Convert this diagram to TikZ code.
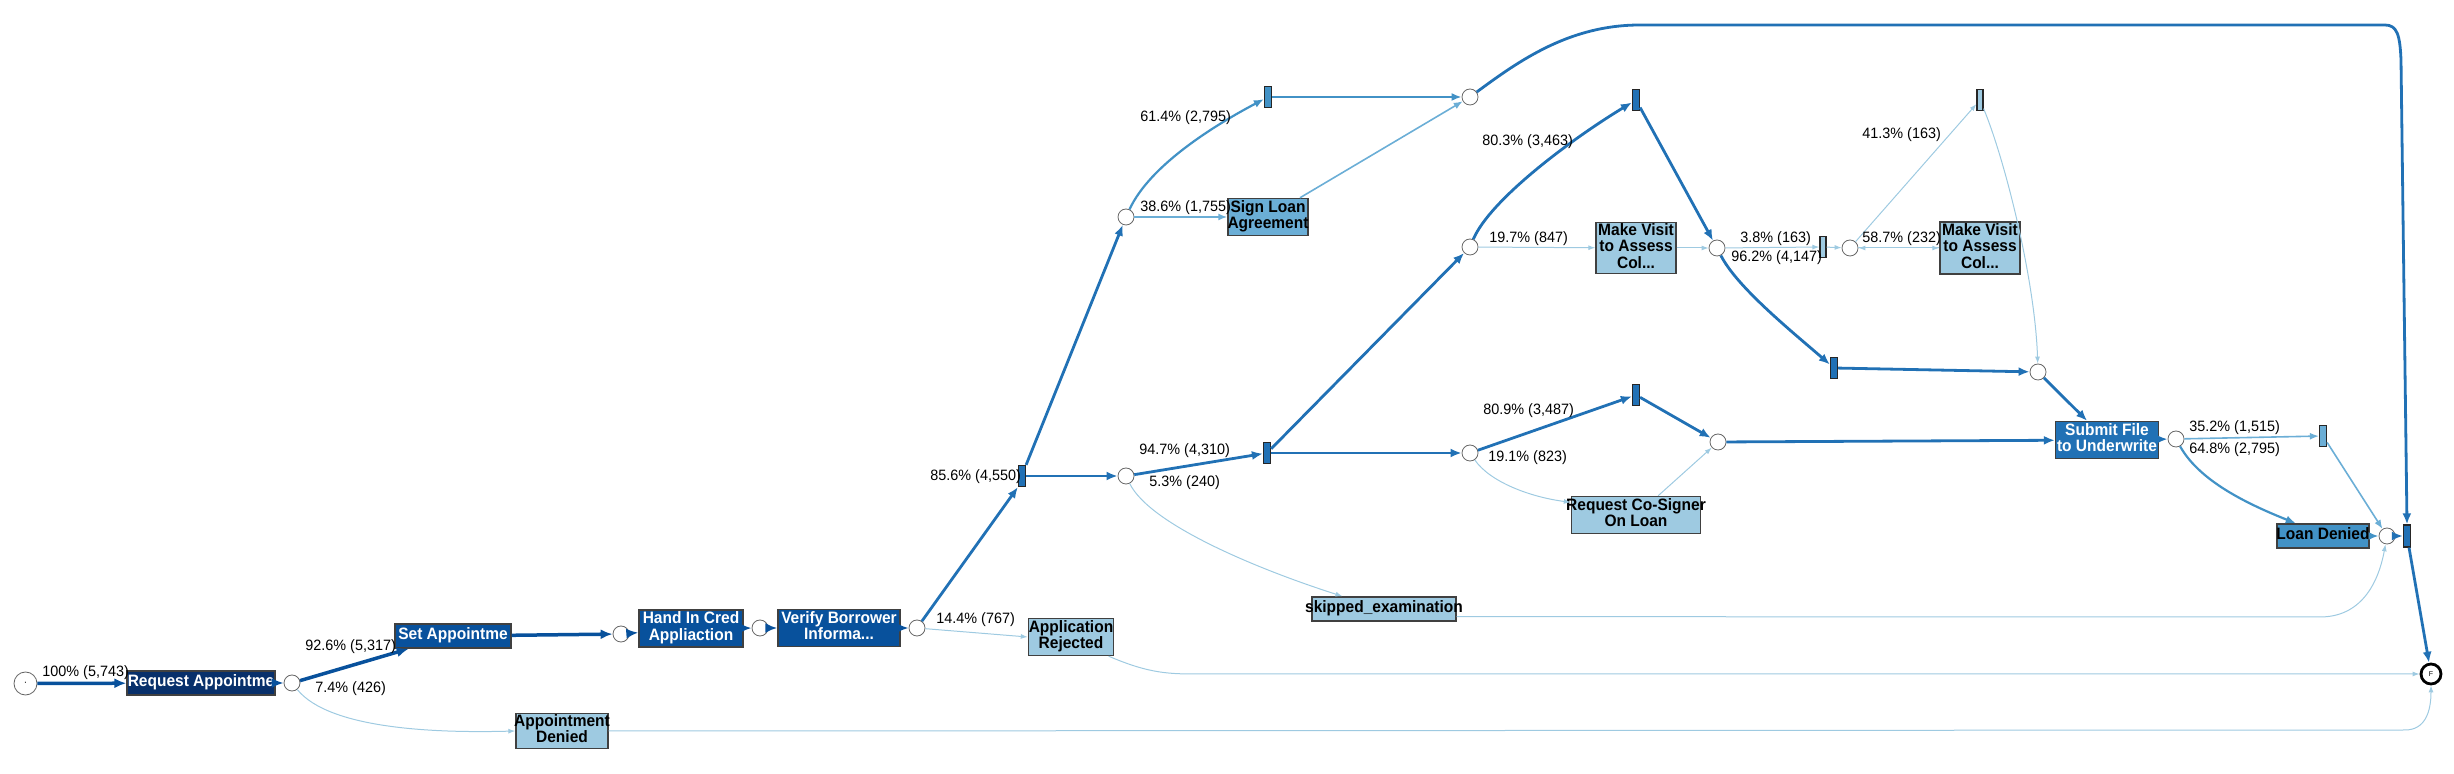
\documentclass[tikz,border=0pt]{standalone}
\usepackage{fontspec}
\setmainfont{Liberation Sans}
\newfontfamily\boxfont[FakeStretch=0.94]{Liberation Sans}
\newfontfamily\lblfont[FakeStretch=0.96]{Liberation Sans}
\usetikzlibrary{arrows.meta}
\definecolor{navy}{HTML}{08306B}
\definecolor{dblue}{HTML}{08519C}
\definecolor{mblue}{HTML}{2171B5}
\definecolor{bfour}{HTML}{4292C6}
\definecolor{bthree}{HTML}{6BAED6}
\definecolor{lblue}{HTML}{9ECAE1}
\newcommand\bt[1]{\makebox[0pt]{\begin{tabular}{@{}c@{}}#1\end{tabular}}}
\begin{document}
\begin{tikzpicture}[x=0.5pt,y=-0.5pt,
  place/.style={circle, draw=black!60, line width=0.4pt, fill=white, minimum size=8pt, inner sep=0pt},
  act/.style={rectangle, draw=black!75, line width=0.7pt, inner sep=0pt, font=\boxfont\fontsize{8.25}{8}\selectfont\bfseries},
  bar/.style={rectangle, draw=black!85, line width=0.6pt, minimum width=3.5pt, minimum height=10.5pt, inner sep=0pt},
  lbl/.style={font=\lblfont\fontsize{7.5}{8}\selectfont, inner sep=0pt, anchor=west},
  eA/.style={line width=1.75pt, -{Latex[length=6pt,width=5pt]}},
  eB/.style={line width=1.4pt, -{Latex[length=5.5pt,width=4.5pt]}},
  eC/.style={line width=1.1pt, -{Latex[length=5pt,width=4pt]}},
  eD/.style={line width=0.8pt, -{Latex[length=4.5pt,width=3.5pt]}},
  eE/.style={line width=0.5pt, -{Latex[length=3.5pt,width=2.5pt]}}]
\useasboundingbox (0,0) rectangle (2454,774);
% places
\node[place, minimum size=11.5pt] (start) at (25.5,683.5) {\fontsize{5}{5}\selectfont ·};
\node[place] (c1) at (292,683) {};
\node[place] (c2) at (621,634) {};
\node[place] (c3) at (760,628) {};
\node[place] (c4) at (917,628) {};
\node[place] (c5) at (1126,476) {};
\node[place] (c6) at (1126,217) {};
\node[place] (c7) at (1470,97) {};
\node[place] (c8) at (1470,247) {};
\node[place] (c9) at (1470,453) {};
\node[place] (c10) at (1717,248) {};
\node[place] (c11) at (1850,248) {};
\node[place] (c12) at (2038,372) {};
\node[place] (c13) at (1718,442) {};
\node[place] (c14) at (2176,439) {};
\node[place] (c15) at (2387,536) {};
\node[circle, draw=black, line width=1.4pt, fill=white, minimum size=10pt, inner sep=0pt, font=\fontsize{3.5}{4}\selectfont] (F) at (2431,674) {F};
% activities
\node[act, fill=navy, text=white, minimum width=74pt, minimum height=12pt] (reqA) at (201,683) {\bt{Request Appointme}};
\node[act, fill=dblue, text=white, minimum width=58pt, minimum height=12pt] (setA) at (453,636) {\bt{Set Appointme}};
\node[act, fill=dblue, text=white, minimum width=52pt, minimum height=18.5pt] (handIn) at (691,628.5) {\bt{Hand In Cred\\Appliaction}};
\node[act, fill=dblue, text=white, minimum width=61pt, minimum height=18.5pt] (verify) at (839,628) {\bt{Verify Borrower\\Informa...}};
\node[act, fill=lblue, minimum width=42.5pt, minimum height=18.5pt] (appRej) at (1071,637) {\bt{Application\\Rejected}};
\node[act, fill=lblue, minimum width=46pt, minimum height=17.5pt] (apptDen) at (562,731) {\bt{Appointment\\Denied}};
\node[act, fill=lblue, minimum width=72pt, minimum height=12pt] (skip) at (1384,609) {\bt{skipped\_examination}};
\node[act, fill=bthree, minimum width=40pt, minimum height=18.5pt] (signL) at (1268,217) {\bt{Sign Loan\\Agreement}};
\node[act, fill=lblue, minimum width=40pt, minimum height=25.5pt] (mv1) at (1636,248) {\bt{Make Visit\\to Assess\\Col...}};
\node[act, fill=lblue, minimum width=40pt, minimum height=26pt] (mv2) at (1980,248) {\bt{Make Visit\\to Assess\\Col...}};
\node[act, fill=lblue, minimum width=64.5pt, minimum height=18.5pt] (cosig) at (1636,515) {\bt{Request Co-Signer\\On Loan}};
\node[act, fill=mblue, text=white, minimum width=51.5pt, minimum height=18.5pt] (submit) at (2107,440) {\bt{Submit File\\to Underwrite}};
\node[act, fill=bfour, minimum width=46pt, minimum height=12pt] (loanD) at (2323,536) {\bt{Loan Denied}};
% bars
\node[bar, fill=mblue] (bar1) at (1022,476) {};
\node[bar, fill=mblue] (bar2) at (1267,453) {};
\node[bar, fill=bfour] (bar3) at (1268,97) {};
\node[bar, fill=mblue] (bar4) at (1636,100) {};
\node[bar, fill=lblue, minimum width=3pt] (sbar) at (1823,247) {};
\node[bar, fill=lblue, minimum width=3pt] (bar6) at (1980,100) {};
\node[bar, fill=mblue] (bar5) at (1834,368) {};
\node[bar, fill=mblue] (bar7) at (1636,395) {};
\node[bar, fill=bthree] (bar8) at (2323,436) {};
\node[bar, fill=mblue, minimum height=11pt] (barF) at (2407,536) {};
% edges
\draw[eA,dblue] (start) -- (reqA);
\draw[eA,dblue] (reqA) -- (c1);
\draw[eA,dblue] (c1) -- (setA.196);
\draw[eE,lblue] (c1) .. controls (330,730) and (440,733) .. (apptDen.west);
\draw[eA,dblue] (setA) -- (c2);
\draw[eA,dblue] (c2) -- (handIn);
\draw[eA,dblue] (handIn) -- (c3);
\draw[eA,dblue] (c3) -- (verify);
\draw[eA,dblue] (verify) -- (c4);
\draw[eB,mblue] (c4) -- (bar1.south west);
\draw[eE,lblue] (c4) -- (appRej.west);
\draw[eB,mblue] (bar1.north east) -- (c6);
\draw[eB,mblue] (bar1) -- (c5);
\draw[eB,mblue] (c5) -- (bar2);
\draw[eE,lblue] (c5) .. controls (1150,525) and (1260,570) .. (skip.163);
\draw[eB,mblue] (bar2) -- (c9);
\draw[eB,mblue] (bar2) -- (c8);
\draw[eC,bfour] (c6) .. controls (1150,165) and (1215,125) .. (bar3);
\draw[eD,bthree] (c6) -- (signL);
\draw[eC,bfour] (bar3) -- (c7);
\draw[eD,bthree] (signL.31) -- (c7);
\draw[eB,mblue] (c7) .. controls (1520,60) and (1570,25) .. (1640,25) -- (2385,25) .. controls (2397,25) and (2400,35) .. (2401,60) -- (barF.north);
\draw[eB,mblue] (c8) .. controls (1490,200) and (1570,140) .. (bar4);
\draw[eE,lblue] (c8) -- (mv1);
\draw[eB,mblue] (bar4) -- (c10);
\draw[eE,lblue] (mv1) -- (c10);
\draw[eE,lblue] (c10) -- (sbar);
\draw[eB,mblue] (c10) .. controls (1737,287) and (1790,330) .. (bar5);
\draw[eE,lblue] (sbar) -- (c11);
\draw[eE,lblue] (c11) -- (mv2);
\draw[eE,lblue] (mv2) -- (c11);
\draw[eE,lblue] (c11) -- (bar6);
\draw[eE,lblue] (bar6) .. controls (2005,160) and (2035,280) .. (c12);
\draw[eB,mblue] (bar5) -- (c12);
\draw[eB,mblue] (c12) -- (submit.136);
\draw[eB,mblue] (c9) -- (bar7);
\draw[eE,lblue] (c9) .. controls (1490,482) and (1530,497) .. (cosig.169);
\draw[eB,mblue] (bar7) -- (c13);
\draw[eE,lblue] (cosig.41) -- (c13);
\draw[eB,mblue] (c13) -- (submit);
\draw[eB,mblue] (submit) -- (c14);
\draw[eD,bthree] (c14) -- (bar8);
\draw[eC,bfour] (c14) .. controls (2200,482) and (2250,505) .. (loanD.155);
\draw[eD,bthree] (bar8) -- (c15);
\draw[eC,bfour] (loanD) -- (c15);
\draw[eE,lblue] (skip.-6) -- (2320,617) .. controls (2360,617) and (2378,585) .. (c15);
\draw[eB,mblue] (c15) -- (barF);
\draw[eB,mblue] (barF) -- (F);
\draw[eE,lblue] (appRej.-27) .. controls (1150,674) and (1170,674) .. (1200,674) -- (F);
\draw[eE,lblue] (apptDen.east) -- (2405,730) .. controls (2425,730) and (2431,712) .. (F.south);
% labels
\node[lbl] (l1) at (42,673) {100\% (5,743)};
\node[lbl] (l2) at (305,647) {92.6\% (5,317)};
\node[lbl] (l3) at (315,689) {7.4\% (426)};
\node[lbl] (l4) at (936,620) {14.4\% (767)};
\node[lbl] (l5) at (930,477) {85.6\% (4,550)};
\node[lbl] (l6) at (1139,451) {94.7\% (4,310)};
\node[lbl] (l7) at (1149,483) {5.3\% (240)};
\node[lbl] (l8) at (1140,118) {61.4\% (2,795)};
\node[lbl] (l9) at (1140,208) {38.6\% (1,755)};
\node[lbl] (l10) at (1482,142) {80.3\% (3,463)};
\node[lbl] (l11) at (1489,239) {19.7\% (847)};
\node[lbl] (l12) at (1740,239) {3.8\% (163)};
\node[lbl] (l13) at (1731,258) {96.2\% (4,147)};
\node[lbl] (l14) at (1862,239) {58.7\% (232)};
\node[lbl] (l15) at (1862,135) {41.3\% (163)};
\node[lbl] (l16) at (1483,411) {80.9\% (3,487)};
\node[lbl] (l17) at (1488,458) {19.1\% (823)};
\node[lbl] (l18) at (2189,428) {35.2\% (1,515)};
\node[lbl] (l19) at (2189,450) {64.8\% (2,795)};
\end{tikzpicture}
\end{document}
